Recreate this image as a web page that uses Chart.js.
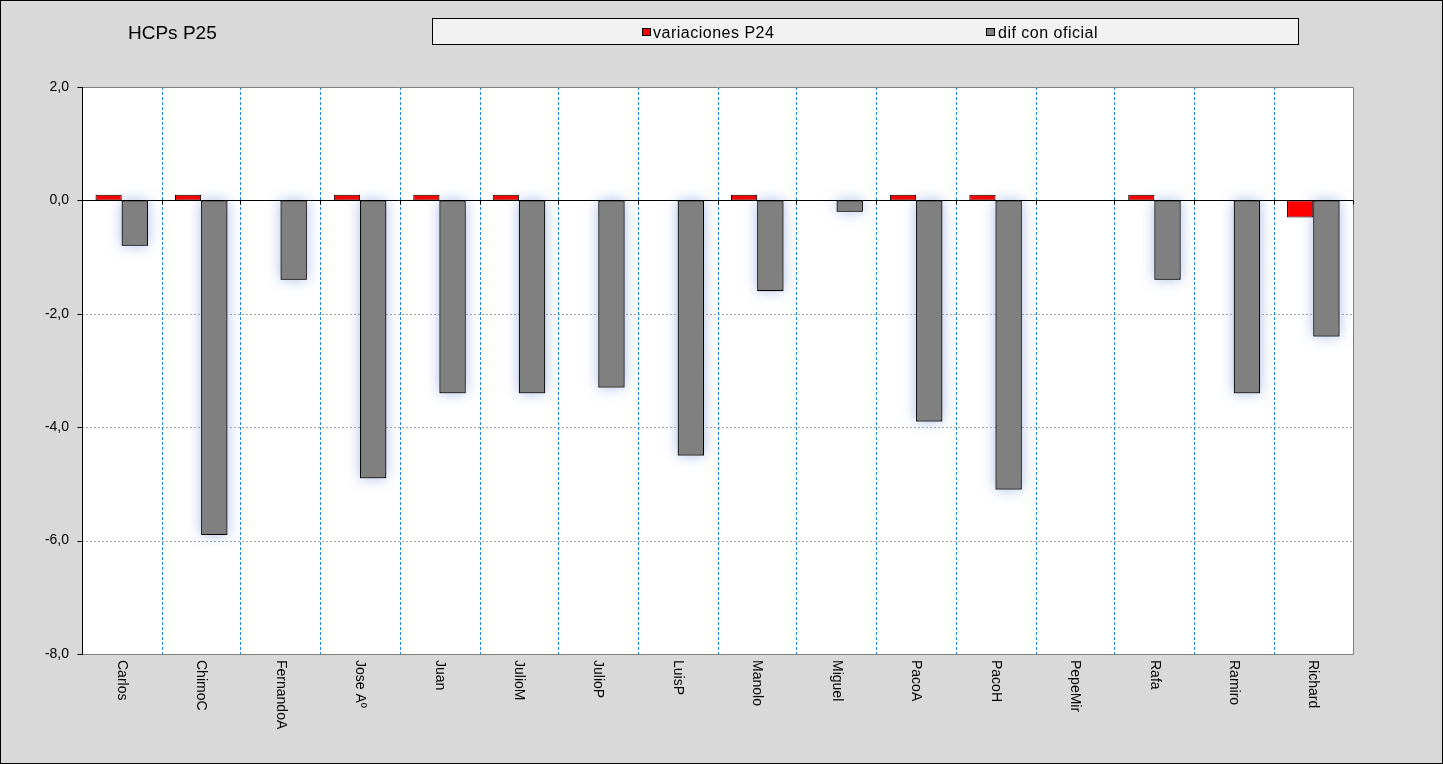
<!DOCTYPE html>
<html>
<head>
<meta charset="utf-8">
<script src="https://cdn.jsdelivr.net/npm/chart.js@4.4.1/dist/chart.umd.min.js"></script>
<style>
  html, body { margin: 0; padding: 0; background: #d9d9d9; }
  #wrap { position: relative; width: 1443px; height: 764px; box-sizing: border-box; border: 1px solid #000; background: #d9d9d9; overflow: hidden; font-family: "Liberation Sans", Arial, sans-serif; }
  #c { position: absolute; left: -1px; top: -1px; }
  #title { position: absolute; left: 127px; top: 22px; font-size: 19px; line-height: 19px; color: #000; white-space: nowrap; }
  #legend { position: absolute; left: 431px; top: 17px; width: 867px; height: 27px; box-sizing: border-box; border: 1px solid #000; background: #f2f2f2; }
  .sw { position: absolute; width: 9px; height: 8px; box-sizing: border-box; border: 1px solid #000; }
  .lt { position: absolute; font-size: 16px; line-height: 16px; letter-spacing: 0.5px; white-space: nowrap; color: #000; }
</style>
</head>
<body>
<div id="wrap">
  <canvas id="c" width="1443" height="764"></canvas>
  <div id="title">HCPs P25</div>
  <div id="legend">
    <div class="sw" style="left:209px; top:9px; background:#ff0000;"></div>
    <div class="lt" id="l1" style="left:220px; top:6px;"></div>
    <div class="sw" style="left:553px; top:9px; background:#808080;"></div>
    <div class="lt" id="l2" style="left:565px; top:6px;"></div>
  </div>
</div>
<script>
const categories = ["Carlos", "ChimoC", "FernandoA", "Jose A\u00ba", "Juan", "JulioM", "JulioP", "LuisP", "Manolo", "Miguel", "PacoA", "PacoH", "PepeMir", "Rafa", "Ramiro", "Richard"];
const variacionesP24 = [0.1, 0.1, 0, 0.1, 0.1, 0.1, 0, 0, 0.1, 0, 0.1, 0.1, 0, 0.1, 0, -0.3];
const difConOficial = [-0.8, -5.9, -1.4, -4.9, -3.4, -3.4, -3.3, -4.5, -1.6, -0.2, -3.9, -5.1, 0, -1.4, -3.4, -2.4];
const seriesNames = ["variaciones P24", "dif con oficial"];
const yTicks = [2, 0, -2, -4, -6, -8];

document.getElementById('l1').textContent = seriesNames[0];
document.getElementById('l2').textContent = seriesNames[1];

const FONT = '"Liberation Sans", Arial, sans-serif';

const plotPlugin = {
  id: 'plotDecor',
  beforeDatasetsDraw(chart) {
    const { ctx, chartArea: a, scales: { x, y } } = chart;
    ctx.save();
    ctx.fillStyle = '#ffffff';
    ctx.fillRect(a.left, a.top, a.right - a.left, a.bottom - a.top);
    // horizontal dashed grid
    ctx.strokeStyle = '#a6a6a6';
    ctx.lineWidth = 1;
    ctx.setLineDash([2, 2]);
    yTicks.forEach(v => {
      if (v === 0 || v === y.max || v === y.min) return;
      const py = Math.round(y.getPixelForValue(v)) + 0.5;
      ctx.beginPath(); ctx.moveTo(a.left, py); ctx.lineTo(a.right, py); ctx.stroke();
    });
    // vertical dashed category separators
    ctx.strokeStyle = '#1f86e8';
    ctx.setLineDash([3, 2]);
    const step = (a.right - a.left) / categories.length;
    for (let i = 1; i < categories.length; i++) {
      const px = 2 * Math.round((a.left + i * step) / 2) + 0.5;
      ctx.beginPath(); ctx.moveTo(px, a.top); ctx.lineTo(px, a.bottom); ctx.stroke();
    }
    ctx.setLineDash([]);
    // plot border (gray)
    ctx.strokeStyle = '#808080';
    ctx.beginPath();
    ctx.moveTo(a.left, Math.round(a.top) + 0.5); ctx.lineTo(Math.round(a.right) + 0.5, Math.round(a.top) + 0.5);
    ctx.lineTo(Math.round(a.right) + 0.5, Math.round(a.bottom) + 0.5); ctx.lineTo(a.left, Math.round(a.bottom) + 0.5);
    ctx.stroke();
    // glow behind the gray bars
    const meta = chart.getDatasetMeta(1);
    ctx.shadowColor = 'rgba(100,135,215,0.55)';
    ctx.shadowBlur = 14;
    ctx.fillStyle = '#808080';
    meta.data.forEach(el => {
      const p = el.getProps(['x', 'y', 'base', 'width'], true);
      const top = Math.min(p.y, p.base), h = Math.abs(p.base - p.y);
      if (h < 0.5) return;
      ctx.fillRect(p.x - p.width / 2, top, p.width, h);
    });
    ctx.restore();
  },
  afterDatasetsDraw(chart) {
    const { ctx, chartArea: a, scales: { x, y } } = chart;
    ctx.save();
    ctx.strokeStyle = '#000000';
    ctx.lineWidth = 1;
    // zero line
    const z = Math.round(y.getPixelForValue(0)) + 0.5;
    ctx.beginPath(); ctx.moveTo(a.left, z); ctx.lineTo(a.right, z); ctx.stroke();
    // category tick marks on zero line
    const step = (a.right - a.left) / categories.length;
    for (let i = 1; i <= categories.length; i++) {
      const px = (i === categories.length ? Math.round(a.right) : 2 * Math.round((a.left + i * step) / 2)) + 0.5;
      ctx.beginPath(); ctx.moveTo(px, z); ctx.lineTo(px, z + 4); ctx.stroke();
    }
    // left axis
    const lx = Math.round(a.left) + 0.5;
    ctx.beginPath(); ctx.moveTo(lx, a.top); ctx.lineTo(lx, a.bottom + 0.5); ctx.stroke();
    yTicks.forEach(v => {
      const py = Math.round(y.getPixelForValue(v)) + 0.5;
      ctx.beginPath(); ctx.moveTo(lx - 5, py); ctx.lineTo(lx, py); ctx.stroke();
    });
    // rotated category labels
    ctx.fillStyle = '#000';
    ctx.font = '14px ' + FONT;
    ctx.textAlign = 'left';
    ctx.textBaseline = 'middle';
    categories.forEach((c, i) => {
      const px = x.getPixelForValue(i);
      ctx.save();
      ctx.translate(px, a.bottom + 6);
      ctx.rotate(Math.PI / 2);
      ctx.fillText(c, 0, 0);
      ctx.restore();
    });
    ctx.restore();
  }
};

new Chart(document.getElementById('c'), {
  type: 'bar',
  data: {
    labels: categories,
    datasets: [
      { label: seriesNames[0], data: variacionesP24, backgroundColor: '#ff0000', borderColor: '#000000', borderWidth: 1, borderSkipped: false },
      { label: seriesNames[1], data: difConOficial, backgroundColor: '#808080', borderColor: '#000000', borderWidth: 1, borderSkipped: false }
    ]
  },
  options: {
    responsive: false,
    animation: false,
    devicePixelRatio: 1,
    layout: { padding: { top: 87, right: 90, left: 0, bottom: 0 } },
    plugins: { legend: { display: false }, title: { display: false }, tooltip: { enabled: false } },
    datasets: { bar: { categoryPercentage: 0.66, barPercentage: 1.0 } },
    scales: {
      x: {
        grid: { display: false, drawTicks: false },
        border: { display: false },
        ticks: { display: false },
        afterFit(s) { s.height = 110; }
      },
      y: {
        min: -8, max: 2,
        afterBuildTicks(s) { s.ticks = yTicks.map(v => ({ value: v })); },
        grid: { display: false, drawTicks: false },
        border: { display: false },
        ticks: {
          padding: 13,
          color: '#000',
          font: { family: FONT, size: 14 },
          callback: v => v.toFixed(1).replace('.', ',')
        },
        afterFit(s) { s.width = 82; }
      }
    }
  },
  plugins: [plotPlugin]
});
</script>
</body>
</html>
